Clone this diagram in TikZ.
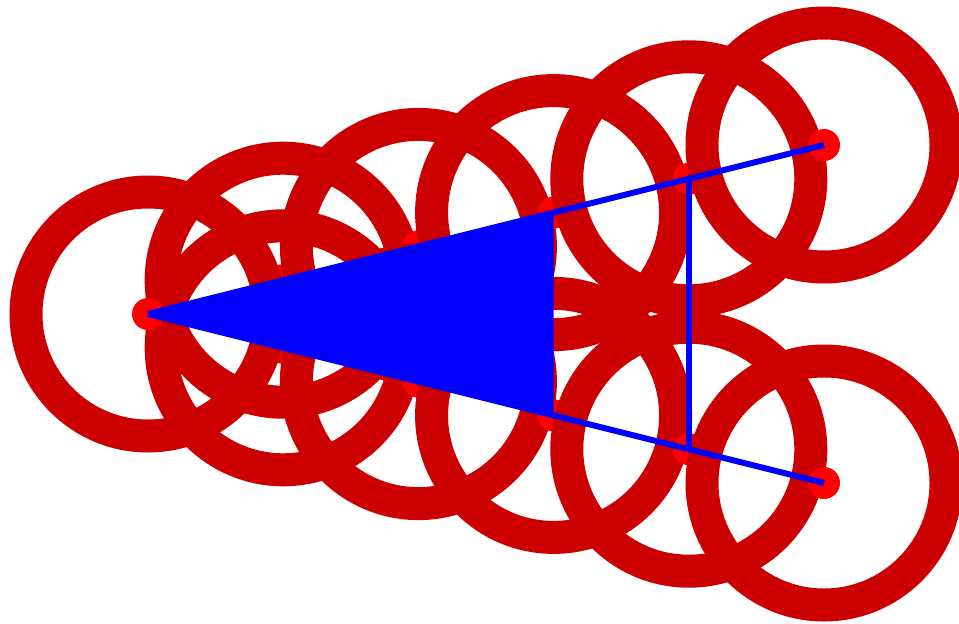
\documentclass[tikz,border=0pt]{standalone}
\definecolor{ringred}{HTML}{CC0000}
\definecolor{dotred}{HTML}{FF0000}
\definecolor{pureblue}{HTML}{0000FF}
\begin{document}
\begin{tikzpicture}[x=1pt,y=-1pt,
  ring/.style={draw=ringred, line width=33pt},
  dot/.style={fill=dotred},
  blueline/.style={draw=pureblue, line width=6pt},
  bluefill/.style={fill=pureblue}]
\useasboundingbox (0,0) rectangle (959,624);
\clip (0,0) rectangle (959,624);
\coordinate (A) at (148,314);
\coordinate (B) at (824,145);
\coordinate (C) at (824,483);
\coordinate (U3) at (553.6,212.6);
\coordinate (L3) at (553.6,415.4);
\coordinate (U4) at (688.8,178.8);
\coordinate (L4) at (688.8,449.2);
\foreach \x/\yu/\yl in {283.2/280.2/347.8, 418.4/246.4/381.6, 553.6/212.6/415.4, 688.8/178.8/449.2} {
  \draw[ring] (\x,\yu) circle[radius=122];
  \fill[dot] (\x,\yu) circle[radius=16];
  \draw[ring] (\x,\yl) circle[radius=122];
  \fill[dot] (\x,\yl) circle[radius=16];
}
\foreach \p in {A,B,C} {
  \draw[ring] (\p) circle[radius=122];
  \fill[dot] (\p) circle[radius=16];
}
\fill[bluefill] (A) -- (U3) -- (L3) -- cycle;
\draw[blueline] (A) -- (B);
\draw[blueline] (A) -- (C);
\draw[blueline] (U4) -- (L4);
\end{tikzpicture}
\end{document}
